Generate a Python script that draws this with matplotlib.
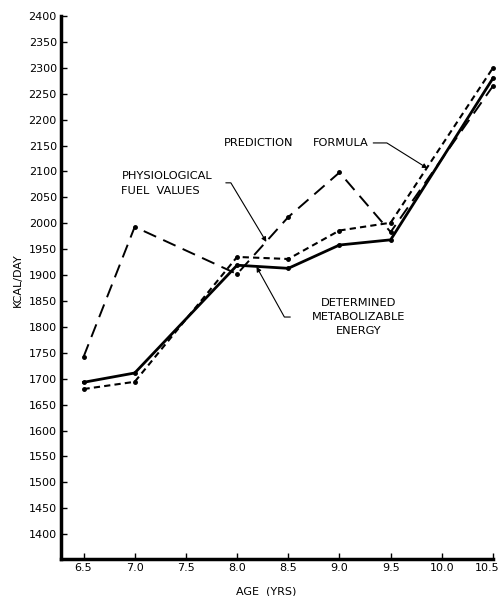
import matplotlib
matplotlib.use("Agg")
import matplotlib.pyplot as plt
from matplotlib.transforms import ScaledTranslation

# Ages (years) and daily energy values (kcal/day)
ages = [6.5, 7.0, 8.0, 8.5, 9.0, 9.5, 10.5]
determined_me = [1693, 1711, 1919, 1913, 1958, 1968, 2280]
physiological_fuel = [1742, 1993, 1902, 2012, 2098, 1983, 2265]
prediction_formula = [1680, 1694, 1935, 1931, 1986, 2001, 2300]

x_ticks = [6.5, 7.0, 7.5, 8.0, 8.5, 9.0, 9.5, 10.0, 10.5]
x_tick_labels = ["6.5", "7.0", "7.5", "8.0", "8.5", "9.0", "9.5", "10.0", "10.5"]
y_ticks = list(range(1400, 2401, 50))

plt.rcParams["font.family"] = ["DejaVu Sans"]

fig = plt.figure(figsize=(5.01, 5.96), dpi=100)
ax = fig.add_axes([61 / 501, 1 - 559 / 596, (493 - 61) / 501, (559 - 16) / 596])

ax.plot(ages, determined_me, color="black", lw=2.0, marker="o", ms=2.5,
        solid_joinstyle="miter", clip_on=False, zorder=3)
ax.plot(ages, prediction_formula, color="black", lw=1.5, ls=(0, (3, 2)),
        marker="o", ms=2.5, clip_on=False, zorder=3)
ax.plot(ages, physiological_fuel, color="black", lw=1.4, ls=(0, (7, 4)),
        marker="o", ms=2.5, clip_on=False, zorder=3)

ax.set_xlim(6.28, 10.5)
ax.set_ylim(1352, 2400)
ax.set_xticks(x_ticks)
ax.set_xticklabels(x_tick_labels)
ax.set_yticks(y_ticks)
ax.tick_params(direction="in", length=4, width=1, labelsize=8, pad=3)

# keep the last age label inside the figure
last = ax.get_xticklabels()[-1]
last.set_transform(last.get_transform() + ScaledTranslation(-4 / 72, 0, fig.dpi_scale_trans))

for side in ("top", "right"):
    ax.spines[side].set_visible(False)
ax.spines["left"].set_linewidth(2.5)
ax.spines["bottom"].set_linewidth(2.5)

ax.set_ylabel("KCAL/DAY", fontsize=8)
ax.yaxis.set_label_coords(-0.089, 0.514)
ax.set_xlabel("AGE  (YRS)", fontsize=8)
ax.xaxis.set_label_coords(0.475, -0.05)

fs = 8.2
arrow = dict(arrowstyle="-|>", color="black", lw=0.8, mutation_scale=7,
             shrinkA=0, shrinkB=0)

# Prediction formula label
ax.text(7.87, 2155, "PREDICTION", fontsize=fs, ha="left", va="center")
ax.text(8.74, 2155, "FORMULA", fontsize=fs, ha="left", va="center")
ax.annotate("", xy=(9.86, 2106), xytext=(9.33, 2155),
            arrowprops=dict(arrow, connectionstyle="angle,angleA=0,angleB=148,rad=0"))

# Physiological fuel values label
ax.text(6.87, 2076, "PHYSIOLOGICAL\nFUEL  VALUES", fontsize=fs, ha="left",
        va="center", linespacing=1.65)
ax.annotate("", xy=(8.286, 1964), xytext=(7.89, 2078),
            arrowprops=dict(arrow, connectionstyle="angle,angleA=0,angleB=121,rad=0"))

# Determined metabolizable energy label
ax.text(9.19, 1819, "DETERMINED\nMETABOLIZABLE\nENERGY", fontsize=fs,
        ha="center", va="center", linespacing=1.45)
ax.annotate("", xy=(8.19, 1916), xytext=(8.52, 1819),
            arrowprops=dict(arrow, connectionstyle="angle,angleA=180,angleB=-61,rad=0"))

fig.savefig("out.png", dpi=100, facecolor="white")
